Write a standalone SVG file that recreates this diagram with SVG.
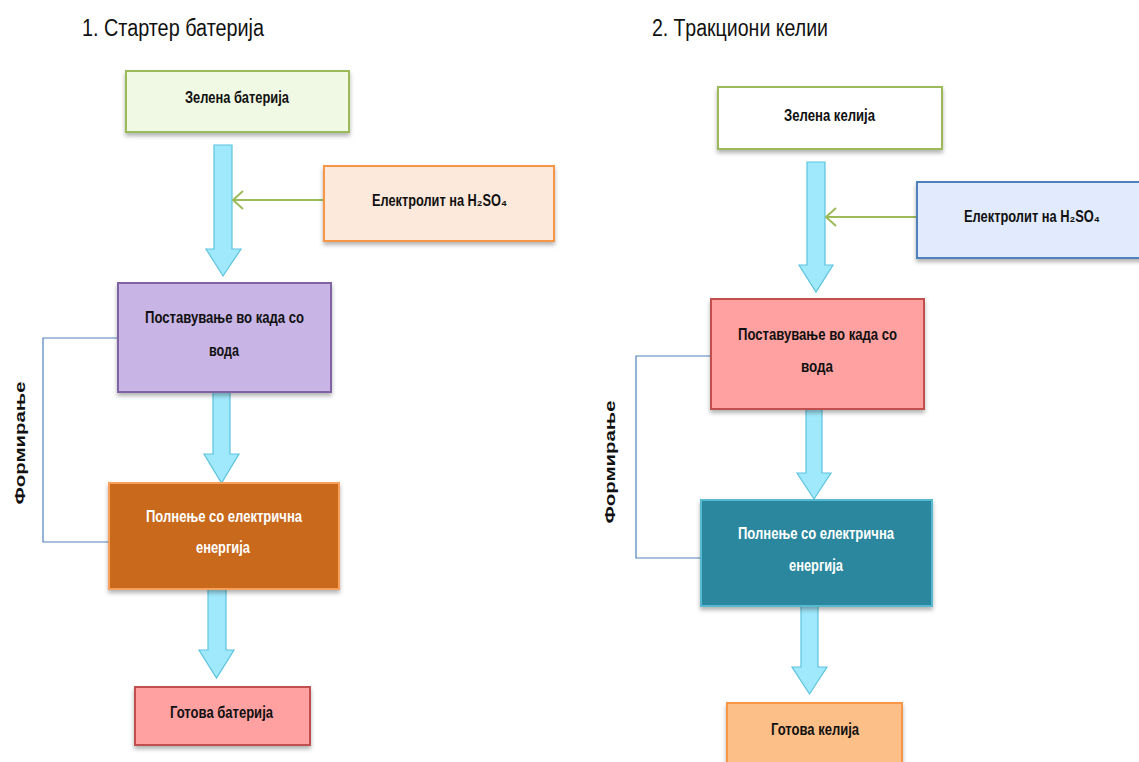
<svg xmlns="http://www.w3.org/2000/svg" width="1139" height="762" viewBox="0 0 1139 762">
<style>
.t{font-family:"Liberation Sans Narrow","Liberation Sans","DejaVu Sans",Arial,sans-serif;font-weight:bold;font-size:16px;fill:#111;text-anchor:middle}
.w{fill:#fff}
.title{font-family:"Liberation Sans Narrow","Liberation Sans",Arial,sans-serif;font-size:23px;fill:#111}
.side{font-family:"Liberation Sans",Arial,sans-serif;font-weight:bold;font-size:15px;fill:#111;text-anchor:middle}
.box{stroke-width:2;filter:url(#sh)}
.blk{fill:#a0e9fc;stroke:#5cc3df;stroke-width:1.2}
.grn{fill:none;stroke:#9bbb59;stroke-width:2}
.brk{fill:none;stroke:#4f81bd;stroke-width:1.2}
</style>
<defs>
<filter id="sh" x="-10%" y="-10%" width="120%" height="140%">
<feDropShadow dx="0" dy="3" stdDeviation="2" flood-color="#000" flood-opacity="0.3"/>
</filter>
</defs>
<rect width="1139" height="762" fill="#fff"/>
<text class="title" x="82" y="36" textLength="182" lengthAdjust="spacingAndGlyphs">1. Стартер батерија</text>
<text class="title" x="652" y="36" textLength="176" lengthAdjust="spacingAndGlyphs">2. Tракциони келии</text>

<g id="connectors">
<polygon class="blk" points="214,145 232,145 232,249 241,249 223,276 206,249 214,249"/>
<polygon class="blk" points="213,392 230,392 230,454 239,454 221.5,483 204,454 213,454"/>
<polygon class="blk" points="208,589 226,589 226,650 234,650 216.5,678 199,650 208,650"/>
<line class="grn" x1="324" y1="200" x2="233" y2="200"/>
<polyline class="grn" points="243,191 233,200 243,209"/>
<polyline class="brk" points="118,345 118,338 43,338 43,542 109,542"/>

<polygon class="blk" points="807,162 825,162 825,265 833,265 816,292 799,265 807,265"/>
<polygon class="blk" points="806,409 822,409 822,473 831,473 814,499 797,473 806,473"/>
<polygon class="blk" points="801,606 818,606 818,667 827,667 809.5,694 792,667 801,667"/>
<line class="grn" x1="916" y1="217" x2="826" y2="217"/>
<polyline class="grn" points="836,208 826,217 836,226"/>
<polyline class="brk" points="712,363 712,356 636,356 636,558 701,558"/>
</g>

<g id="n1"><rect class="box" x="126" y="71" width="223" height="61" fill="#f0f9e3" stroke="#9bbb59"/>
<text class="t" x="237" y="103" textLength="104" lengthAdjust="spacingAndGlyphs">Зелена батерија</text></g>
<g id="n2"><rect class="box" x="324" y="166" width="230" height="75" fill="#fde9db" stroke="#f79646"/>
<text class="t" x="439.5" y="206" textLength="135" lengthAdjust="spacingAndGlyphs">Електролит на H₂SO₄</text></g>
<g id="n3"><rect class="box" x="118" y="283" width="213" height="109" fill="#c8b5e6" stroke="#8064a2"/>
<text class="t" x="224.5" y="323" textLength="159" lengthAdjust="spacingAndGlyphs">Поставување во када со</text>
<text class="t" x="224" y="356" textLength="30" lengthAdjust="spacingAndGlyphs">вода</text></g>
<g id="n4"><rect class="box" x="109" y="483" width="230" height="106" fill="#c8691c" stroke="#f7a05c"/>
<text class="t w" x="224" y="522" textLength="156" lengthAdjust="spacingAndGlyphs">Полнење со електрична</text>
<text class="t w" x="223" y="553" textLength="54" lengthAdjust="spacingAndGlyphs">енергија</text></g>
<g id="n5"><rect class="box" x="135" y="687" width="175" height="58" fill="#ffa1a1" stroke="#c0504d"/>
<text class="t" x="221.5" y="718" textLength="103" lengthAdjust="spacingAndGlyphs">Готова батерија</text></g>
<g id="f1"><text class="side" x="25" y="443" transform="rotate(-90 25 443)" textLength="123" lengthAdjust="spacingAndGlyphs">Формирање</text></g>

<g id="m1"><rect class="box" x="718" y="87" width="224" height="62" fill="#fff" stroke="#9bbb59"/>
<text class="t" x="829.5" y="121" textLength="91" lengthAdjust="spacingAndGlyphs">Зелена келија</text></g>
<g id="m2"><rect class="box" x="917" y="182" width="230" height="76" fill="#e1ebfd" stroke="#4f81bd"/>
<text class="t" x="1032" y="222" textLength="136" lengthAdjust="spacingAndGlyphs">Електролит на H₂SO₄</text></g>
<g id="m3"><rect class="box" x="711" y="299" width="213" height="110" fill="#ffa1a1" stroke="#c0504d"/>
<text class="t" x="817.5" y="340" textLength="159" lengthAdjust="spacingAndGlyphs">Поставување во када со</text>
<text class="t" x="817" y="372" textLength="32" lengthAdjust="spacingAndGlyphs">вода</text></g>
<g id="m4"><rect class="box" x="701" y="500" width="231" height="106" fill="#2a879e" stroke="#55b9d1"/>
<text class="t w" x="816" y="539" textLength="156" lengthAdjust="spacingAndGlyphs">Полнење со електрична</text>
<text class="t w" x="816" y="571" textLength="54" lengthAdjust="spacingAndGlyphs">енергија</text></g>
<g id="m5"><rect class="box" x="727" y="703" width="175" height="70" fill="#fdbf88" stroke="#f79646"/>
<text class="t" x="815" y="735" textLength="88" lengthAdjust="spacingAndGlyphs">Готова келија</text></g>
<g id="f2"><text class="side" x="615" y="462" transform="rotate(-90 615 462)" textLength="123" lengthAdjust="spacingAndGlyphs">Формирање</text></g>
</svg>
